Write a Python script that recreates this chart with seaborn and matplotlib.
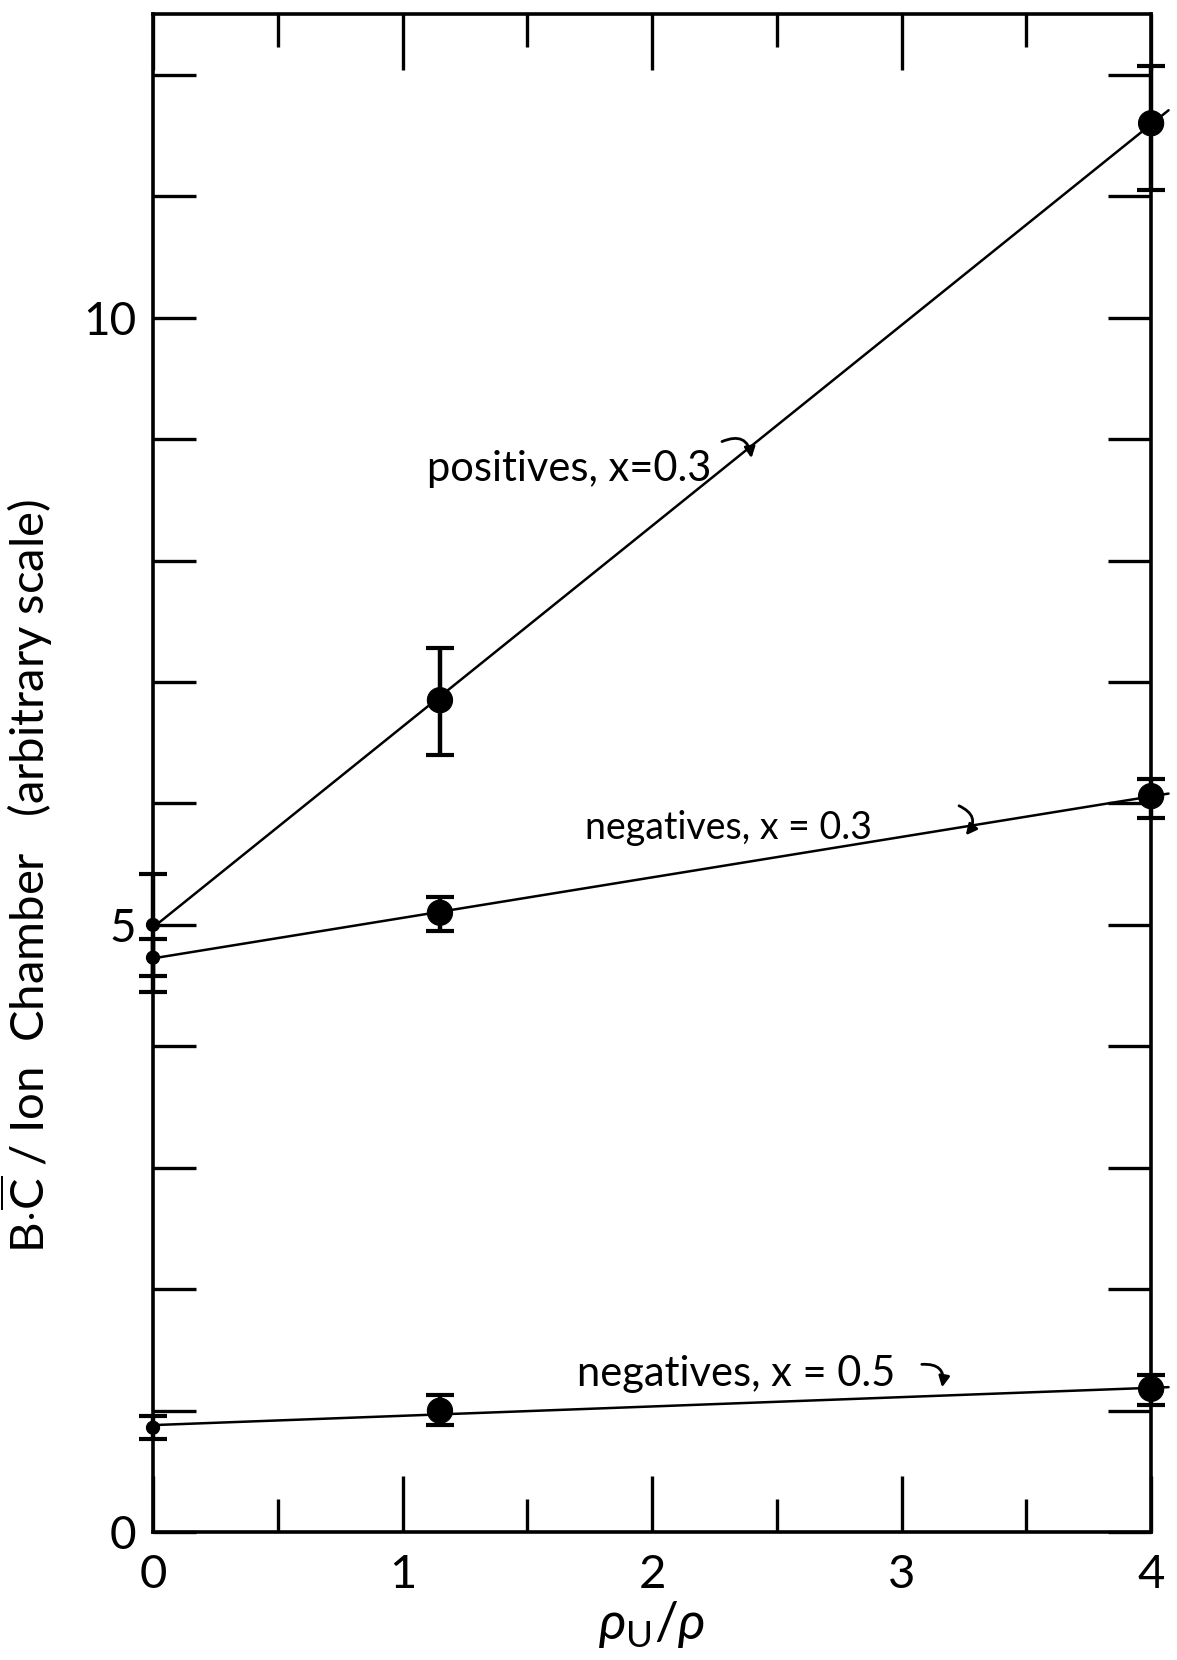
import numpy as np
import pandas as pd
import matplotlib
matplotlib.use("Agg")
import matplotlib.pyplot as plt
import seaborn as sns

# data
rho_ratio = [0.0, 1.15, 4.0]

pos_03 = [5.00, 6.85, 11.60]
pos_03_lo = [4.45, 6.40, 11.05]
pos_03_hi = [5.42, 7.28, 12.07]

neg_03 = [4.73, 5.10, 6.06]
neg_03_lo = [4.58, 4.95, 5.88]
neg_03_hi = [4.88, 5.23, 6.20]

neg_05 = [0.86, 1.00, 1.18]
neg_05_lo = [0.77, 0.88, 1.05]
neg_05_hi = [0.96, 1.13, 1.29]

series_names = ["positives, x=0.3", "negatives, x = 0.3", "negatives, x = 0.5"]

sns.set_style("ticks")
plt.rcParams["font.family"] = ["Lato", "DejaVu Sans"]
plt.rcParams["mathtext.fontset"] = "custom"
plt.rcParams["mathtext.rm"] = "Lato"
plt.rcParams["mathtext.it"] = "Lato:italic"
for key in ["text.color", "axes.labelcolor", "xtick.color", "ytick.color"]:
    plt.rcParams[key] = "black"

fig = plt.figure(figsize=(11.77, 16.6), dpi=100)
ax = fig.add_axes([0.130, 0.077, 0.848, 0.9146])

df = pd.DataFrame({
    "x": rho_ratio * 3,
    "y": pos_03 + neg_03 + neg_05,
    "lo": pos_03_lo + neg_03_lo + neg_05_lo,
    "hi": pos_03_hi + neg_03_hi + neg_05_hi,
    "series": np.repeat(series_names, 3),
})
df["big"] = np.where(df["x"] > 0, "big", "small")

# straight fitted lines
for name in series_names:
    d = df[df["series"] == name]
    k, b = np.polyfit(d["x"], d["y"], 1)
    xx = np.array([0.02, 4.07])
    ax.plot(xx, k * xx + b, color="black", lw=1.8, clip_on=False, zorder=2)

# error bars
ax.errorbar(df["x"], df["y"], yerr=[df["y"] - df["lo"], df["hi"] - df["y"]],
            fmt="none", ecolor="black", elinewidth=3.2, capsize=10, capthick=3,
            clip_on=False, zorder=3)

sns.scatterplot(data=df, x="x", y="y", size="big", sizes={"big": 330, "small": 90},
                color="black", edgecolor="black", legend=False, ax=ax,
                clip_on=False, zorder=4)

ax.set_xlim(0, 4)
ax.set_ylim(0, 12.5)

ax.set_xticks([0, 1, 2, 3, 4])
ax.set_xticks([0.5, 1.5, 2.5, 3.5], minor=True)
ax.set_yticks(np.arange(0, 13, 1))
ax.set_yticklabels(["0", "", "", "", "", "5", "", "", "", "", "10", "", ""])
ax.tick_params(axis="both", which="both", direction="in", top=True, right=True,
               width=2.4, color="black", labelcolor="black")
ax.tick_params(axis="x", which="major", length=40, labelsize=34, pad=16)
ax.tick_params(axis="x", which="minor", length=24)
ax.tick_params(axis="y", which="major", length=31, labelsize=33, pad=12)
for s in ax.spines.values():
    s.set_linewidth(2.6)
    s.set_color("black")

ax.set_xlabel(r"$\mathit{\rho}_{\rm U}/\mathit{\rho}$", fontsize=38, labelpad=2)
ax.set_ylabel(r"B$\cdot\overline{\rm C}$ / Ion  Chamber   (arbitrary scale)", fontsize=34)
ax.yaxis.set_label_coords(-0.098, 0.432)

# curve labels
label_pos = [(1.10, 8.75), (1.73, 5.80), (1.70, 1.30)]
label_size = [30, 27, 30]
arrow_pos = [((2.27, 8.97), (2.40, 8.82)), ((3.22, 5.99), (3.25, 5.72)),
             ((3.07, 1.38), (3.16, 1.17))]
for name, (tx, ty), fs, (a0, a1) in zip(series_names, label_pos, label_size, arrow_pos):
    ax.text(tx, ty, name, fontsize=fs, ha="left", va="center")
    ax.annotate("", xy=a1, xytext=a0,
                arrowprops=dict(arrowstyle="-|>", color="black", lw=2,
                                connectionstyle="arc3,rad=-0.7", mutation_scale=16))

fig.savefig("out.png", dpi=100)
